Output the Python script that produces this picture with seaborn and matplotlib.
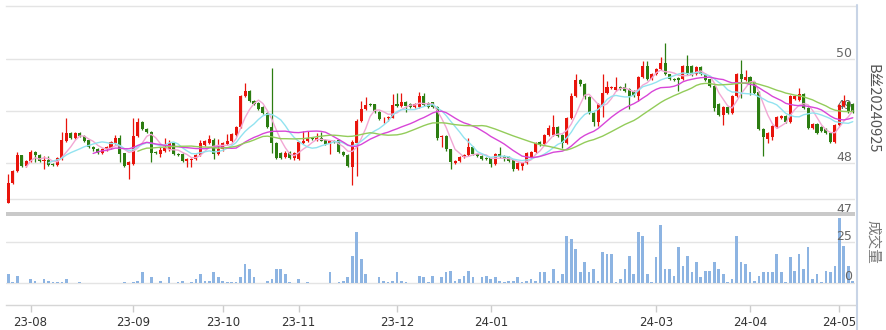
import numpy as np
import pandas as pd
import matplotlib
matplotlib.use("Agg")
import matplotlib.pyplot as plt
import seaborn as sns
from matplotlib.patches import Rectangle
from matplotlib.lines import Line2D

sns.set_theme(style="white")
plt.rcParams['font.family'] = ['DejaVu Sans', 'Noto Sans CJK SC']

# ---------------- data ----------------
holidays = ['2023-09-29', '2023-10-02', '2023-10-03', '2023-10-04', '2023-10-05', '2023-10-06',
            '2024-01-01', '2024-02-09', '2024-02-12', '2024-02-13', '2024-02-14', '2024-02-15',
            '2024-02-16', '2024-04-04', '2024-04-05', '2024-05-01', '2024-05-02', '2024-05-03']
dates = pd.bdate_range("2023-07-25", "2024-05-09", freq="C", holidays=holidays)

open_ = [47.24, 47.61, 47.84, 48.15, 47.94, 48.03, 48.21, 48.15, 48.04, 48.06,
         47.98, 47.96, 48.08, 48.43, 48.58, 48.48, 48.58, 48.52, 48.44, 48.31,
         48.27, 48.20, 48.26, 48.28, 48.39, 48.49, 48.19, 47.96, 47.98, 48.52,
         48.79, 48.65, 48.60, 48.22, 48.17, 48.24, 48.26, 48.39, 48.18, 48.17,
         48.03, 48.05, 48.08, 48.15, 48.35, 48.38, 48.44, 48.17, 48.26, 48.37,
         48.42, 48.53, 48.70, 49.29, 49.39, 49.20, 49.16, 49.07, 48.97, 48.70,
         48.39, 48.19, 48.12, 48.22, 48.10, 48.08, 48.38, 48.42, 48.48, 48.44,
         48.48, 48.44, 48.37, 48.43, 48.44, 48.22, 48.16, 47.93, 48.38, 48.80,
         49.04, 49.13, 49.13, 48.98, 48.86, 48.86, 48.87, 49.13, 49.10, 49.17,
         49.13, 49.08, 49.08, 49.28, 49.15, 49.17, 49.08, 48.50, 48.52, 48.26,
         48.00, 48.03, 48.11, 48.15, 48.30, 48.17, 48.14, 48.10, 48.09, 47.99,
         48.17, 48.13, 48.11, 48.06, 47.88, 47.94, 48.00, 48.12, 48.21, 48.40,
         48.36, 48.54, 48.54, 48.70, 48.53, 48.38, 48.87, 49.28, 49.60, 49.51,
         49.27, 48.97, 48.79, 49.12, 49.35, 49.44, 49.40, 49.47, 49.46, 49.42,
         49.39, 49.28, 49.66, 49.87, 49.61, 49.71, 49.80, 49.92, 49.71, 49.62,
         49.63, 49.61, 49.87, 49.87, 49.71, 49.85, 49.72, 49.61, 49.49, 49.13,
         48.93, 49.08, 48.96, 49.28, 49.71, 49.60, 49.66, 49.56, 49.36, 48.65,
         48.47, 48.50, 48.70, 48.86, 48.90, 48.78, 49.24, 49.22, 49.32, 49.05,
         48.67, 48.75, 48.69, 48.66, 48.57, 48.41, 48.73, 49.10, 49.17, 49.14]
close = [47.62, 47.85, 48.15, 47.94, 48.04, 48.22, 48.15, 48.03, 48.06, 47.97,
         47.96, 48.10, 48.44, 48.58, 48.48, 48.58, 48.52, 48.43, 48.30, 48.26,
         48.20, 48.27, 48.31, 48.40, 48.49, 48.17, 47.95, 48.01, 48.52, 48.79,
         48.65, 48.60, 48.20, 48.19, 48.25, 48.28, 48.38, 48.17, 48.16, 48.03,
         48.08, 48.08, 48.16, 48.39, 48.42, 48.46, 48.17, 48.26, 48.38, 48.43,
         48.56, 48.70, 49.29, 49.39, 49.20, 49.13, 49.04, 48.96, 48.69, 48.38,
         48.10, 48.10, 48.20, 48.10, 48.20, 48.40, 48.43, 48.48, 48.46, 48.48,
         48.43, 48.37, 48.43, 48.40, 48.21, 48.16, 47.94, 48.40, 48.81, 49.04,
         49.12, 49.11, 48.98, 48.85, 48.87, 48.88, 49.12, 49.10, 49.17, 49.10,
         49.08, 49.13, 49.28, 49.12, 49.08, 49.08, 48.48, 48.52, 48.26, 48.01,
         48.04, 48.12, 48.15, 48.31, 48.17, 48.13, 48.08, 48.08, 47.99, 48.17,
         48.12, 48.10, 48.04, 47.88, 48.00, 48.00, 48.20, 48.22, 48.39, 48.35,
         48.54, 48.67, 48.70, 48.52, 48.38, 48.87, 49.28, 49.60, 49.51, 49.26,
         48.96, 48.79, 49.13, 49.35, 49.46, 49.47, 49.47, 49.42, 49.39, 49.28,
         49.29, 49.66, 49.87, 49.62, 49.71, 49.81, 49.92, 49.71, 49.61, 49.60,
         49.60, 49.87, 49.72, 49.70, 49.85, 49.71, 49.60, 49.49, 49.05, 48.92,
         49.08, 48.96, 49.28, 49.71, 49.62, 49.65, 49.53, 49.35, 48.65, 48.50,
         48.57, 48.71, 48.89, 48.90, 48.78, 49.28, 49.28, 49.32, 49.05, 48.67,
         48.75, 48.58, 48.62, 48.57, 48.41, 48.73, 49.12, 49.20, 48.98, 48.99]
high = [47.79, 47.87, 48.22, 48.16, 48.06, 48.25, 48.23, 48.17, 48.13, 48.14,
        48.00, 48.12, 48.60, 48.87, 48.60, 48.60, 48.60, 48.54, 48.46, 48.33,
        48.29, 48.29, 48.33, 48.42, 48.53, 48.53, 48.20, 48.03, 48.87, 48.87,
        48.81, 48.67, 48.62, 48.24, 48.30, 48.48, 48.44, 48.41, 48.20, 48.19,
        48.10, 48.10, 48.18, 48.44, 48.44, 48.54, 48.49, 48.47, 48.40, 48.56,
        48.58, 48.72, 49.31, 49.54, 49.41, 49.22, 49.18, 49.09, 48.99, 49.83,
        48.41, 48.21, 48.24, 48.24, 48.22, 48.42, 48.61, 48.62, 48.50, 48.57,
        48.60, 48.46, 48.45, 48.45, 48.46, 48.24, 48.17, 48.45, 48.84, 49.19,
        49.27, 49.15, 49.14, 49.00, 48.89, 48.90, 49.33, 49.34, 49.34, 49.19,
        49.15, 49.15, 49.36, 49.34, 49.17, 49.18, 49.09, 48.54, 48.53, 48.27,
        48.06, 48.14, 48.17, 48.48, 48.32, 48.18, 48.16, 48.11, 48.11, 48.19,
        48.30, 48.15, 48.13, 48.07, 48.02, 48.02, 48.22, 48.24, 48.41, 48.42,
        48.56, 48.74, 48.93, 48.72, 48.55, 48.89, 49.35, 49.72, 49.62, 49.53,
        49.28, 48.98, 49.15, 49.72, 49.57, 49.49, 49.66, 49.49, 49.54, 49.44,
        49.41, 49.68, 49.96, 49.96, 49.73, 49.83, 50.04, 50.31, 49.72, 49.64,
        49.65, 49.89, 50.07, 49.89, 49.87, 49.87, 49.74, 49.62, 49.50, 49.15,
        49.10, 49.10, 49.30, 49.74, 49.99, 49.79, 49.68, 49.58, 49.38, 48.67,
        48.60, 48.73, 48.91, 48.92, 48.92, 49.30, 49.30, 49.45, 49.34, 49.07,
        48.77, 48.77, 48.71, 48.68, 48.59, 48.75, 49.14, 49.31, 49.20, 49.16]
low = [47.24, 47.59, 47.82, 47.92, 47.92, 48.01, 48.02, 48.01, 47.89, 47.94,
       47.94, 47.94, 48.06, 48.41, 48.46, 48.46, 48.50, 48.41, 48.28, 48.24,
       48.18, 48.18, 48.24, 48.26, 48.37, 48.02, 47.93, 47.70, 47.96, 48.50,
       48.63, 48.58, 48.02, 48.17, 48.12, 48.22, 48.24, 48.15, 48.14, 48.01,
       47.92, 47.92, 48.06, 48.13, 48.33, 48.36, 48.07, 48.15, 48.24, 48.35,
       48.40, 48.51, 48.68, 49.27, 49.18, 49.11, 49.02, 48.94, 48.67, 48.20,
       48.08, 48.08, 48.10, 48.08, 48.06, 48.06, 48.36, 48.40, 48.44, 48.42,
       48.42, 48.35, 48.18, 48.38, 48.19, 48.14, 47.92, 47.58, 47.75, 48.78,
       49.02, 49.09, 48.96, 48.83, 48.76, 48.80, 48.86, 49.08, 49.08, 48.98,
       49.06, 49.06, 49.06, 49.10, 49.06, 49.06, 48.44, 48.31, 48.24, 47.89,
       47.98, 48.01, 48.09, 48.13, 48.15, 48.11, 48.06, 48.06, 47.92, 47.97,
       48.10, 48.04, 48.02, 47.84, 47.86, 47.86, 47.98, 48.10, 48.19, 48.33,
       48.34, 48.52, 48.52, 48.50, 48.29, 48.36, 48.85, 49.26, 49.49, 49.24,
       48.94, 48.72, 48.72, 48.88, 49.33, 49.42, 49.38, 49.40, 49.37, 49.03,
       49.27, 49.19, 49.64, 49.60, 49.59, 49.69, 49.78, 49.69, 49.59, 49.58,
       49.38, 49.59, 49.70, 49.68, 49.69, 49.69, 49.58, 49.47, 49.00, 48.90,
       48.74, 48.94, 48.94, 49.26, 49.25, 49.58, 49.30, 49.33, 48.63, 48.13,
       48.38, 48.45, 48.68, 48.84, 48.76, 48.76, 49.22, 49.20, 49.03, 48.65,
       48.65, 48.56, 48.60, 48.55, 48.39, 48.39, 48.71, 49.08, 48.96, 48.97]
volume = [5.4, 0.8, 4.1, 0, 0, 2.3, 1.0, 0, 2.3, 1.0,
          0.6, 0.6, 0.6, 2.3, 0, 0, 0.6, 0, 0, 0,
          0, 0, 0, 0, 0, 0, 0.6, 0, 0.6, 1.2,
          6.6, 0, 3.5, 0, 1.2, 0, 3.5, 0, 0.8, 1.2,
          0, 0.8, 2.3, 5.4, 1.2, 1.2, 6.6, 3.5, 1.2, 0.6,
          0.6, 0.6, 3.5, 11.6, 8.5, 3.5, 0, 0, 1.2, 2.3,
          8.5, 8.5, 5.4, 0.6, 0, 2.3, 0, 0.6, 0, 0,
          0, 0, 6.6, 0, 0.6, 1.2, 3.5, 16.5, 30.8, 14.9,
          5.4, 0, 0, 3.5, 1.2, 0.6, 1.2, 6.6, 1.2, 0.6,
          0, 0, 4.1, 3.5, 0.6, 4.1, 0, 3.5, 6.6, 7.2,
          1.2, 2.3, 4.1, 7.2, 3.5, 0, 3.5, 4.1, 2.3, 3.5,
          1.2, 0.6, 1.2, 1.2, 3.5, 0.6, 1.2, 2.3, 1.2, 6.6,
          6.6, 1.2, 8.5, 1.2, 5.4, 28.9, 27.1, 20.9, 6.6, 12.8,
          6.6, 8.5, 1.2, 19.0, 17.8, 17.8, 0.6, 2.3, 8.5, 16.5,
          5.4, 30.8, 28.9, 5.4, 0.6, 15.9, 35.1, 8.5, 8.5, 4.1,
          22.1, 10.3, 16.5, 6.6, 12.8, 3.5, 7.2, 7.2, 12.8, 8.5,
          5.4, 0.6, 2.3, 28.9, 12.8, 11.6, 6.6, 1.2, 4.1, 6.6,
          6.6, 6.6, 17.8, 6.6, 0.6, 15.9, 7.2, 17.8, 8.5, 22.1,
          2.3, 5.4, 0.6, 7.2, 6.6, 10.3, 39.5, 22.7, 10.3, 1.0]
tick_labels = ['23-08', '23-09', '23-10', '23-11', '23-12', '24-01', '24-03', '24-04', '24-05']
price_labels = [50, 49, 48, 47]
volume_labels = [25, 0]
ma_windows = [5, 10, 20, 30]
contract_name = "B丝20240925"
volume_title = "成交量"

# ---------------- styles ----------------
UP, DOWN = "#e8140c", "#2c7d11"
VOL_COLOR = "#8db4e2"
MA_COLORS = {5: "#f2a7d4", 10: "#92e3f0", 20: "#d846d8", 30: "#93cc5a"}
GRID = "#e4e4e4"
LABEL = "#666666"

df = pd.DataFrame({"date": dates, "open": open_, "close": close,
                   "high": high, "low": low, "volume": volume})
df["idx"] = np.arange(len(df))
for w in ma_windows:
    df[f"MA{w}"] = df["close"].rolling(w).mean()
df["up"] = df["close"] >= df["open"]
df["month"] = df["date"].dt.strftime("%y-%m")
first_of_month = df.groupby("month")["idx"].min()
tick_pos = [first_of_month[m] for m in tick_labels]

# ---------------- layout ----------------
W, H = 887, 330
fig = plt.figure(figsize=(W / 100, H / 100), dpi=100)
fig.patch.set_facecolor("white")

def fx(px):
    return px / W

def fy(py):
    return 1 - py / H

x0, x1 = 6, 855
# price scale: 50 at pixel row 59, 52 px per unit
def price_at(py):
    return 50 - (py - 59) / 52.0

ax = fig.add_axes([fx(x0), fy(212), fx(x1) - fx(x0), fy(6) - fy(212)])
ax.set_facecolor("none")
ax.set_xlim(-0.5, len(df) - 0.5)
ax.set_ylim(price_at(212), price_at(6))
for s in ["left", "right", "bottom"]:
    ax.spines[s].set_visible(False)
ax.spines["top"].set_color(GRID)
ax.spines["top"].set_linewidth(1)
for p in price_labels[:-1]:
    ax.axhline(p, color=GRID, lw=1, zorder=0)
ax.axhline(price_at(199), color=GRID, lw=1, zorder=0)

# price labels (drawn under the candles)
ytrans = ax.get_yaxis_transform()
lx = 1 - 2.5 / (x1 - x0)
for p in price_labels[:-1]:
    ax.text(lx, p + 6 / 52.0, str(p), transform=ytrans, ha="right", va="center",
            fontsize=9, color=LABEL, zorder=0.5)
ax.text(lx, price_at(209), str(price_labels[-1]), transform=ytrans, ha="right",
        va="center", fontsize=9, color=LABEL, zorder=0.5)

# candles
colors = np.where(df["up"], UP, DOWN)
ax.vlines(df["idx"], df["low"], df["high"], colors=colors, lw=0.9, zorder=2)
body_h = np.maximum((df["close"] - df["open"]).abs(), 0.012)
body_b = np.minimum(df["close"], df["open"])
ax.bar(df["idx"], body_h, bottom=body_b, width=0.68, color=colors, linewidth=0, zorder=3)

# moving averages
for w in ma_windows:
    sns.lineplot(data=df, x="idx", y=f"MA{w}", ax=ax, color=MA_COLORS[w],
                 linewidth=1.0, zorder=4, legend=False)
ax.set_xlabel("")
ax.set_ylabel("")
ax.set_xlim(-0.5, len(df) - 0.5)
ax.set_xticks([])
ax.set_yticks([])

# separator band
fig.add_artist(Rectangle((fx(x0), fy(216)), fx(x1) - fx(x0), fy(212) - fy(216),
                         transform=fig.transFigure, color="#c9c9c9", lw=0))

# ---------------- volume ----------------
# 0 at row 283, 25 at row 242
vpx = (283 - 242) / 25.0
axv = fig.add_axes([fx(x0), fy(305), fx(x1) - fx(x0), fy(216) - fy(305)])
axv.set_facecolor("none")
sns.barplot(data=df, x="idx", y="volume", color=VOL_COLOR, saturation=1,
            width=0.6, errorbar=None, ax=axv, zorder=3, linewidth=0)
axv.set_xlim(-0.5, len(df) - 0.5)
axv.set_ylim(-(305 - 283) / vpx, (283 - 216) / vpx)
for s in ["left", "right", "top"]:
    axv.spines[s].set_visible(False)
axv.spines["bottom"].set_color("#d6d6d6")
axv.spines["bottom"].set_linewidth(1)
for v in volume_labels:
    axv.axhline(v, color=GRID, lw=1, zorder=0)
vtrans = axv.get_yaxis_transform()
for v in volume_labels:
    axv.text(lx, v + 6 / vpx, str(v), transform=vtrans, ha="right", va="center",
             fontsize=9, color=LABEL, zorder=5)
axv.set_yticks([])
axv.set_xticks(tick_pos)
axv.set_xticklabels(tick_labels)
axv.tick_params(axis="x", length=5, width=1, color="#cccccc", labelsize=8.5,
                labelcolor="#333333", pad=3, direction="out", bottom=True)
axv.set_xlabel("")
axv.set_ylabel("")

# right side frame line and titles
fig.add_artist(Line2D([fx(857), fx(857)], [0, fy(5)], transform=fig.transFigure,
                      color="#c8d4e6", lw=1.5))
fig.text(fx(873), fy(109), contract_name, rotation=270, ha="center", va="center",
         fontsize=10.5, color="#555555", family=["Noto Sans CJK SC", "DejaVu Sans"])
fig.text(fx(873), fy(242), volume_title, rotation=270, ha="center", va="center",
         fontsize=10.5, color="#777777", family=["Noto Sans CJK SC", "DejaVu Sans"])

fig.savefig("out.png", dpi=100, facecolor="white")
